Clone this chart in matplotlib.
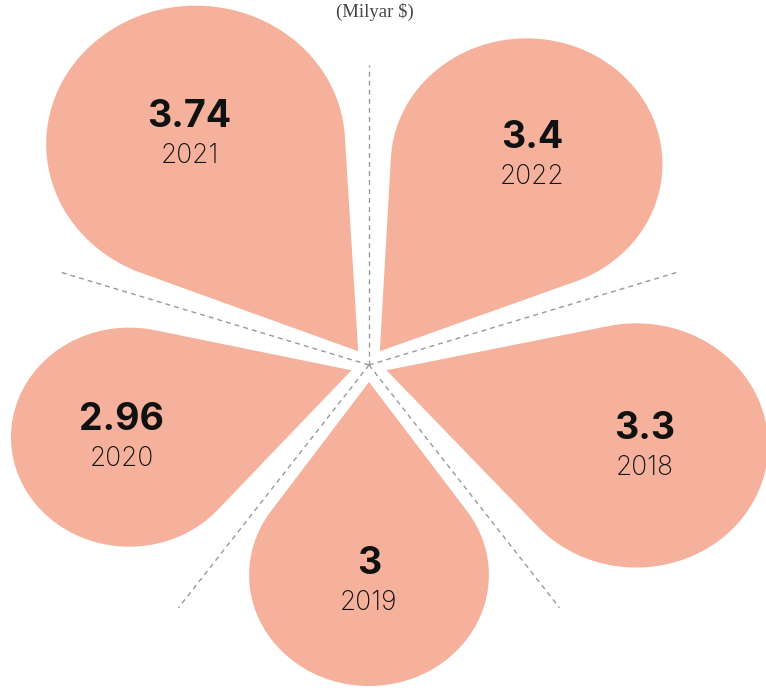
import numpy as np
import matplotlib.pyplot as plt
from matplotlib.patches import Polygon

# data
years = ['2018', '2019', '2020', '2021', '2022']
values = [3.3, 3.0, 2.96, 3.74, 3.4]
value_labels = ['3.3', '3', '2.96', '3.74', '3.4']
unit_label = '(Milyar $)'

# style / layout
PETAL_COLOR = '#F5B19B'
GUIDE_COLOR = '#999999'
R_PER_UNIT = 37.0        # bulb radius per milyar $
REACH_V, REACH_H = 70.0, 80.0   # distance of bulb centre per milyar $ (vertical / horizontal)
TIP_GAP = 17.0
GUIDE_LEN = 300
X_STRETCH = 1.08


def reach(theta):
    c, s = np.cos(theta), np.sin(theta)
    return REACH_H * REACH_V / np.sqrt((REACH_V * c) ** 2 + (REACH_H * s) ** 2)


def petal(theta, d, r, g):
    ux, uy = np.cos(theta), np.sin(theta)
    tip = np.array([g * ux, g * uy])
    cx, cy = d * ux, d * uy
    beta = np.arccos(r / (d - g))
    back = theta + np.pi
    t = np.linspace(back + beta, back + 2 * np.pi - beta, 300)
    arc = np.column_stack([cx + r * np.cos(t), cy + r * np.sin(t)])
    return np.vstack([tip, arc])


fig = plt.figure(figsize=(7.66, 6.91), dpi=100)
ax = fig.add_axes([0, 0, 1, 1])
ax.set_xlim(-369 / X_STRETCH, 397 / X_STRETCH)
ax.set_ylim(-326, 365)
ax.axis('off')

n = len(values)
step = 2 * np.pi / n
angles = [np.deg2rad(342) - i * step for i in range(n)]

for i in range(n):
    th = angles[i]
    d = values[i] * reach(th)
    r = values[i] * R_PER_UNIT
    ax.add_patch(Polygon(petal(th, d, r, TIP_GAP), closed=True,
                         facecolor=PETAL_COLOR, edgecolor='none', zorder=1))

    # labels sit a little outward from bulb centre
    lx = (d + 0.07 * r) * np.cos(th)
    ly = (d + 0.07 * r) * np.sin(th)
    ax.text(lx, ly + 9, value_labels[i], ha='center', va='baseline',
            fontsize=27, fontweight='bold', family=['Inter', 'DejaVu Sans'],
            color='#111111', zorder=3)
    ax.text(lx, ly - 27, years[i], ha='center', va='baseline',
            fontsize=19, fontweight='light', family=['Inter', 'DejaVu Sans'],
            color='#111111', zorder=3)

# dashed guides between petals
for i in range(n):
    a = angles[i] + step / 2
    ax.plot([0, GUIDE_LEN * np.cos(a)], [0, GUIDE_LEN * np.sin(a)],
            color=GUIDE_COLOR, lw=1.0, dashes=(3.5, 3.0), zorder=2)

fig.text(375 / 766, 1 - 12 / 691, unit_label, ha='center', va='center',
         fontsize=13.5, family=['Liberation Serif', 'DejaVu Serif'], color='#444444')

fig.savefig('out.png', dpi=100, facecolor='white')
